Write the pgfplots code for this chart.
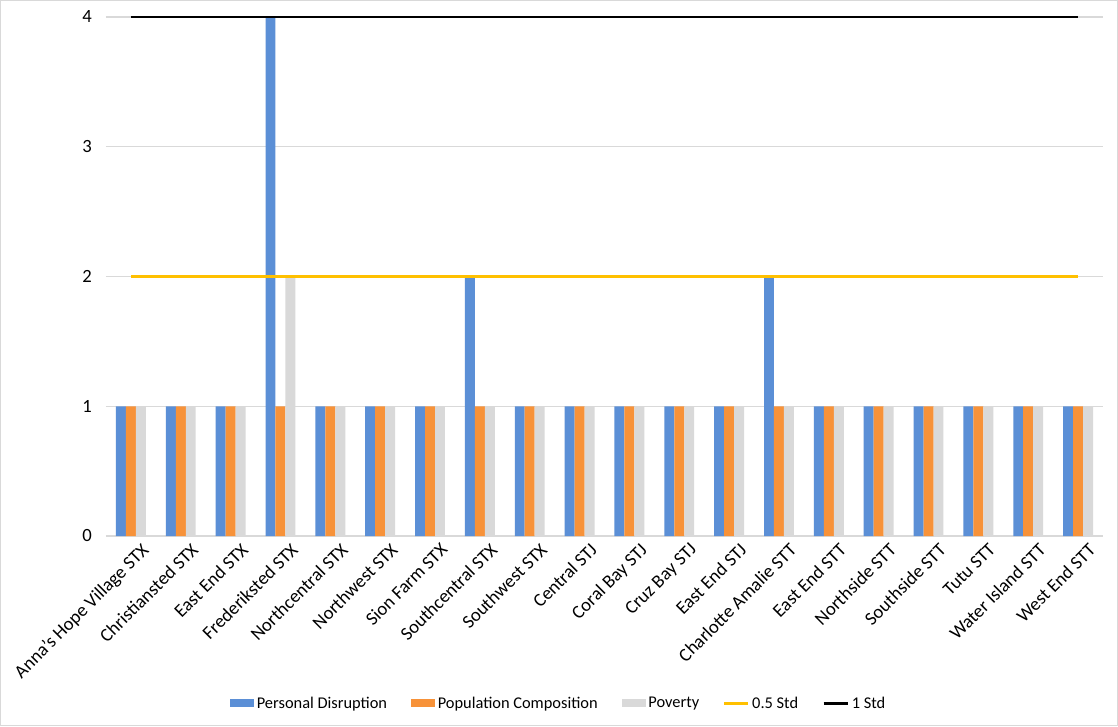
\documentclass[border=0pt]{standalone}
\usepackage{fontspec}
\setmainfont{Carlito}
\usepackage{pgfplots}
\pgfplotsset{compat=1.18}
\definecolor{pdblue}{HTML}{5B8FD6}
\definecolor{pcorange}{HTML}{F79239}
\definecolor{povgray}{HTML}{D9D9D9}
\definecolor{halfstd}{HTML}{FFC000}
\definecolor{gridgray}{HTML}{D9D9D9}

\begin{document}
\begin{tikzpicture}[x=1pt,y=1pt]
	\fill[white] (0,0) rectangle (838.5,544.5);
	\draw[gridgray, line width=0.8pt] (0.4,0.4) rectangle (838.1,544.1);
	\begin{axis}[
			at={(79.5pt,142.5pt)},
			anchor=south west,
			scale only axis,
			width=747.75pt,
			height=389.25pt,
			xmin=-0.5, xmax=19.5,
			ymin=0, ymax=4,
			clip=false,
			ytick={0,1,2,3,4},
			xtick={0,...,19},
			xticklabels={Anna's Hope Village STX, Christiansted STX, East End STX, Frederiksted STX, Northcentral STX, Northwest STX, Sion Farm STX, Southcentral STX, Southwest STX, Central STJ, Coral Bay STJ, Cruz Bay STJ, East End STJ, Charlotte Amalie STT, East End STT, Northside STT, Southside STT, Tutu STT, Water Island STT, West End STT},
			x tick label style={rotate=45, anchor=north east, font=\fontsize{14}{16}\selectfont, inner sep=1pt, yshift=-7pt, xshift=3pt},
			y tick label style={font=\fontsize{14}{16}\selectfont, xshift=-7pt},
			/pgf/number format/assume math mode=true,
			axis line style={draw=none},
			tick style={draw=none},
			ymajorgrids=true,
			major grid style={draw=gridgray, line width=0.8pt},
			legend columns=5,
			legend style={
				at={(0.4544,-0.3224)}, anchor=center,
				draw=none, fill=none,
				font=\fontsize{12.3}{14}\selectfont,
				/tikz/every even column/.append style={column sep=16pt},
				inner sep=0pt,
			},
			legend cell align=left,
		]
		\addplot[ybar, bar width=0.2, bar shift=-0.2, fill=pdblue, draw=none,
			legend image code/.code={\fill[pdblue] (0pt,-3pt) rectangle (18pt,3pt);}]
		coordinates {
			(0,1) (1,1) (2,1) (3,4) (4,1) (5,1) (6,1) (7,2) (8,1) (9,1)
			(10,1) (11,1) (12,1) (13,2) (14,1) (15,1) (16,1) (17,1) (18,1) (19,1)
		};
		\addplot[ybar, bar width=0.2, bar shift=0, fill=pcorange, draw=none,
			legend image code/.code={\fill[pcorange] (0pt,-3pt) rectangle (18pt,3pt);}]
		coordinates {
			(0,1) (1,1) (2,1) (3,1) (4,1) (5,1) (6,1) (7,1) (8,1) (9,1)
			(10,1) (11,1) (12,1) (13,1) (14,1) (15,1) (16,1) (17,1) (18,1) (19,1)
		};
		\addplot[ybar, bar width=0.2, bar shift=0.2, fill=povgray, draw=none,
			legend image code/.code={\fill[povgray] (0pt,-3pt) rectangle (18pt,3pt);}]
		coordinates {
			(0,1) (1,1) (2,1) (3,2) (4,1) (5,1) (6,1) (7,1) (8,1) (9,1)
			(10,1) (11,1) (12,1) (13,1) (14,1) (15,1) (16,1) (17,1) (18,1) (19,1)
		};
		\addplot[sharp plot, halfstd, line width=1.8pt, mark=none,
			legend image code/.code={\draw[halfstd, line width=1.8pt] (0pt,0pt) -- (18pt,0pt);}]
		coordinates {(0,2) (19,2)};
		\addplot[sharp plot, black, line width=2.2pt, mark=none,
			legend image code/.code={\draw[black, line width=2.2pt] (0pt,0pt) -- (18pt,0pt);}]
		coordinates {(0,4) (19,4)};
		\legend{Personal Disruption, Population Composition, Poverty, 0.5 Std, 1 Std}
	\end{axis}
\end{tikzpicture}
\end{document}
